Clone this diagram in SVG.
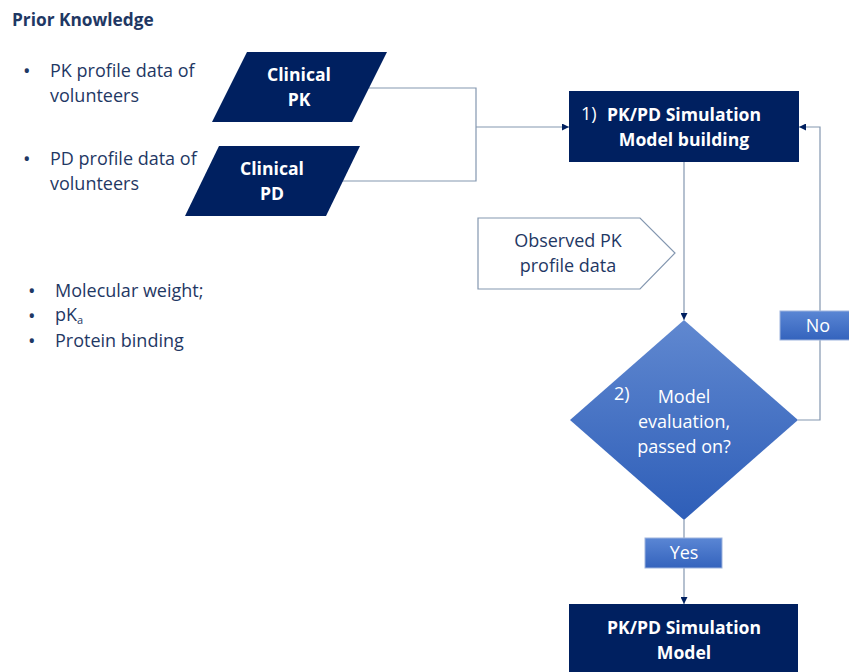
<svg xmlns="http://www.w3.org/2000/svg" width="849" height="672" viewBox="0 0 849 672">
<style>
text{font-family:"Open Sans","Liberation Sans",sans-serif}
.t{fill:#1f3864;font-size:18px}
.w{fill:#ffffff;font-size:18px}
.b{font-weight:bold;font-size:17.6px}
.bu{font-size:20px}
.dark{fill:#002060}
.ln{fill:none;stroke:#8497b0;stroke-width:1.2}
</style>
<defs>
<marker id="ah" viewBox="0 0 10 10" refX="10" refY="5" markerWidth="7" markerHeight="7" orient="auto" markerUnits="userSpaceOnUse">
<path d="M0,0 L10,5 L0,10 z" fill="#002060"/>
</marker>
<linearGradient id="dg" x1="0" y1="0" x2="0" y2="1">
<stop offset="0" stop-color="#6088d0"/>
<stop offset="1" stop-color="#2e5eb8"/>
</linearGradient>
<linearGradient id="lg" x1="0" y1="0" x2="0" y2="1">
<stop offset="0" stop-color="#5a86d4"/>
<stop offset="1" stop-color="#3463bd"/>
</linearGradient>
</defs>

<g id="prior">
<text class="t b" x="12" y="26" style="font-size:17.3px">Prior Knowledge</text>
<text class="t bu" x="23" y="78">•</text>
<text class="t" x="50" y="77">PK profile data of</text>
<text class="t" x="50" y="102">volunteers</text>
<text class="t bu" x="23" y="166">•</text>
<text class="t" x="50" y="165">PD profile data of</text>
<text class="t" x="50" y="190">volunteers</text>
<text class="t bu" x="28" y="298">•</text>
<text class="t" x="55" y="297">Molecular weight;</text>
<text class="t bu" x="28" y="323">•</text>
<text class="t" x="55" y="321">pK</text>
<text class="t" x="77" y="324" style="font-size:11px">a</text>
<text class="t bu" x="28" y="348">•</text>
<text class="t" x="55" y="347">Protein binding</text>
</g>

<g id="connectors">
<polyline class="ln" points="369,88 476,88 476,181 342,181"/>
<line class="ln" x1="476" y1="127" x2="569" y2="127" marker-end="url(#ah)"/>
<line class="ln" x1="684" y1="162" x2="684" y2="320" marker-end="url(#ah)"/>
<polyline class="ln" points="798,420 820,420 820,127 799,127" marker-end="url(#ah)"/>
<line class="ln" x1="684" y1="520" x2="684" y2="604" marker-end="url(#ah)"/>
</g>

<g id="clinical-pk">
<polygon class="dark" points="247,52 387,52 352,122 212,122"/>
<text class="w b" x="299" y="81" text-anchor="middle">Clinical</text>
<text class="w b" x="299" y="106" text-anchor="middle">PK</text>
</g>

<g id="clinical-pd">
<polygon class="dark" points="219,146 360,146 326,216 185,216"/>
<text class="w b" x="272" y="175" text-anchor="middle">Clinical</text>
<text class="w b" x="272" y="200" text-anchor="middle">PD</text>
</g>

<g id="model-building">
<rect class="dark" x="569" y="91" width="230" height="71"/>
<text class="w" x="581" y="120" font-size="16">1)</text>
<text class="w b" x="684" y="121" text-anchor="middle">PK/PD Simulation</text>
<text class="w b" x="684" y="146" text-anchor="middle">Model building</text>
</g>

<g id="observed">
<polygon points="478,218 640,218 675,253 640,289 478,289" fill="#ffffff" stroke="#8497b0" stroke-width="1.2"/>
<text class="t" x="568" y="247" text-anchor="middle">Observed PK</text>
<text class="t" x="568" y="272" text-anchor="middle">profile data</text>
</g>

<g id="evaluation">
<polygon points="684,320 798,420 684,520 570,420" fill="url(#dg)"/>
<text class="w" x="614" y="400" font-size="16">2)</text>
<text class="w" x="684" y="403" text-anchor="middle">Model</text>
<text class="w" x="684" y="428" text-anchor="middle">evaluation,</text>
<text class="w" x="684" y="453" text-anchor="middle">passed on?</text>
</g>

<g id="no">
<rect x="780" y="311" width="80" height="29" fill="url(#lg)" stroke="#9db3dd" stroke-width="1"/>
<text class="w" x="818" y="332" text-anchor="middle">No</text>
</g>

<g id="yes">
<rect x="645" y="538" width="77" height="30" fill="url(#lg)" stroke="#9db3dd" stroke-width="1"/>
<text class="w" x="684" y="559" text-anchor="middle">Yes</text>
</g>

<g id="final-model">
<rect class="dark" x="569" y="604" width="229" height="80"/>
<text class="w b" x="684" y="634" text-anchor="middle">PK/PD Simulation</text>
<text class="w b" x="684" y="659" text-anchor="middle">Model</text>
</g>
</svg>
